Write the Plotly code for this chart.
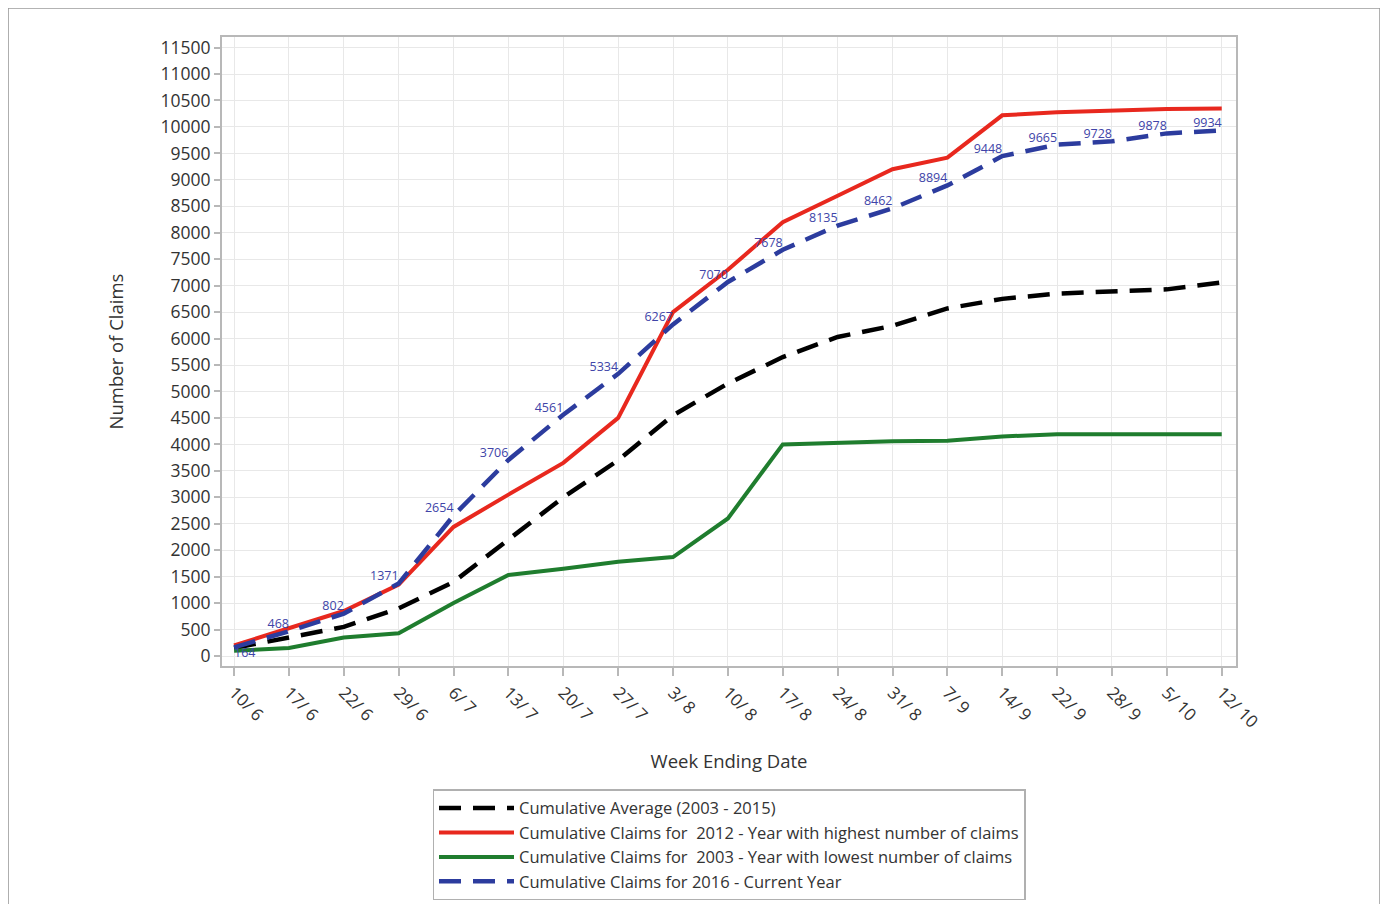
import plotly.graph_objects as go

weeks = ["10/ 6", "17/ 6", "22/ 6", "29/ 6", "6/ 7", "13/ 7", "20/ 7", "27/ 7", "3/ 8", "10/ 8",
         "17/ 8", "24/ 8", "31/ 8", "7/ 9", "14/ 9", "22/ 9", "28/ 9", "5/ 10", "12/ 10"]

avg_2003_2015 = [150, 350, 550, 900, 1400, 2200, 3000, 3700, 4550, 5150,
                 5650, 6030, 6240, 6570, 6750, 6850, 6900, 6930, 7060]
claims_2012 = [200, 520, 850, 1350, 2440, 3050, 3650, 4500, 6500, 7300,
               8200, 8700, 9200, 9420, 10220, 10280, 10310, 10340, 10350]
claims_2003 = [100, 150, 350, 430, 1000, 1530, 1650, 1780, 1870, 2600,
               4000, 4030, 4060, 4070, 4150, 4190, 4190, 4190, 4190]
claims_2016 = [164, 468, 802, 1371, 2654, 3706, 4561, 5334, 6267, 7070,
               7678, 8135, 8462, 8894, 9448, 9665, 9728, 9878, 9934]

y_ticks = list(range(0, 11501, 500))

FONT = "Open Sans"

label_pos = ["bottom right"] + ["top left"] * (len(weeks) - 1)

fig = go.Figure()
fig.add_trace(go.Scatter(x=weeks, y=avg_2003_2015, mode="lines",
                         name="Cumulative Average (2003 - 2015)",
                         line=dict(color="black", width=4.5, dash="22px,12px")))
fig.add_trace(go.Scatter(x=weeks, y=claims_2012, mode="lines",
                         name="Cumulative Claims for  2012 - Year with highest number of claims",
                         line=dict(color="#e8281e", width=4)))
fig.add_trace(go.Scatter(x=weeks, y=claims_2003, mode="lines",
                         name="Cumulative Claims for  2003 - Year with lowest number of claims",
                         line=dict(color="#1f7d2e", width=4)))
fig.add_trace(go.Scatter(x=weeks, y=claims_2016, mode="lines+text",
                         name="Cumulative Claims for 2016 - Current Year",
                         text=[str(v) for v in claims_2016], textposition=label_pos,
                         textfont=dict(family=FONT, size=12.5, color="#4044a8"),
                         line=dict(color="#2c3c9e", width=4.5, dash="22px,12px")))

# The page body adds an 8px offset, so margins are reduced accordingly.
fig.update_layout(
    width=1388, height=904,
    margin=dict(l=214, r=160, t=29, b=246, autoexpand=False),
    paper_bgcolor="white", plot_bgcolor="white",
    font=dict(family=FONT, color="#333333"),
    showlegend=True,
    legend=dict(x=0.5, xanchor="center", y=-0.196, yanchor="top",
                bordercolor="#b0b0b0", borderwidth=1.5, bgcolor="white",
                font=dict(family=FONT, size=16.5, color="#333333"),
                itemwidth=75, tracegroupgap=0),
    xaxis=dict(type="category", range=[-0.22, 18.26], automargin=False,
               showgrid=True, gridcolor="#e8e8e8", gridwidth=1,
               showline=True, linecolor="#b8b8b8", linewidth=2, mirror=True,
               ticks="outside", ticklen=8, tickcolor="#b8b8b8", tickwidth=1.5,
               tickangle=45, tickfont=dict(family=FONT, size=17, color="#333333"),
               title=dict(text="Week Ending Date", font=dict(family=FONT, size=18.5, color="#333333"),
                          standoff=24)),
    yaxis=dict(range=[-189, 11700], tickvals=y_ticks, ticktext=[str(v) for v in y_ticks],
               automargin=False,
               showgrid=True, gridcolor="#e8e8e8", gridwidth=1, zeroline=False,
               showline=True, linecolor="#b8b8b8", linewidth=2, mirror=True,
               ticks="outside", ticklen=6, tickcolor="#b8b8b8", tickwidth=1.5,
               tickfont=dict(family=FONT, size=17.5, color="#333333"),
               title=dict(text="Number of Claims", font=dict(family=FONT, size=18.5, color="#333333"),
                          standoff=32)),
    shapes=[dict(type="rect", xref="paper", yref="paper",
                 x0=-0.211, x1=1.142, y0=-0.41, y1=1.046,
                 line=dict(color="#9a9a9a", width=1.5), layer="below")],
)

fig.write_html("out.html")
